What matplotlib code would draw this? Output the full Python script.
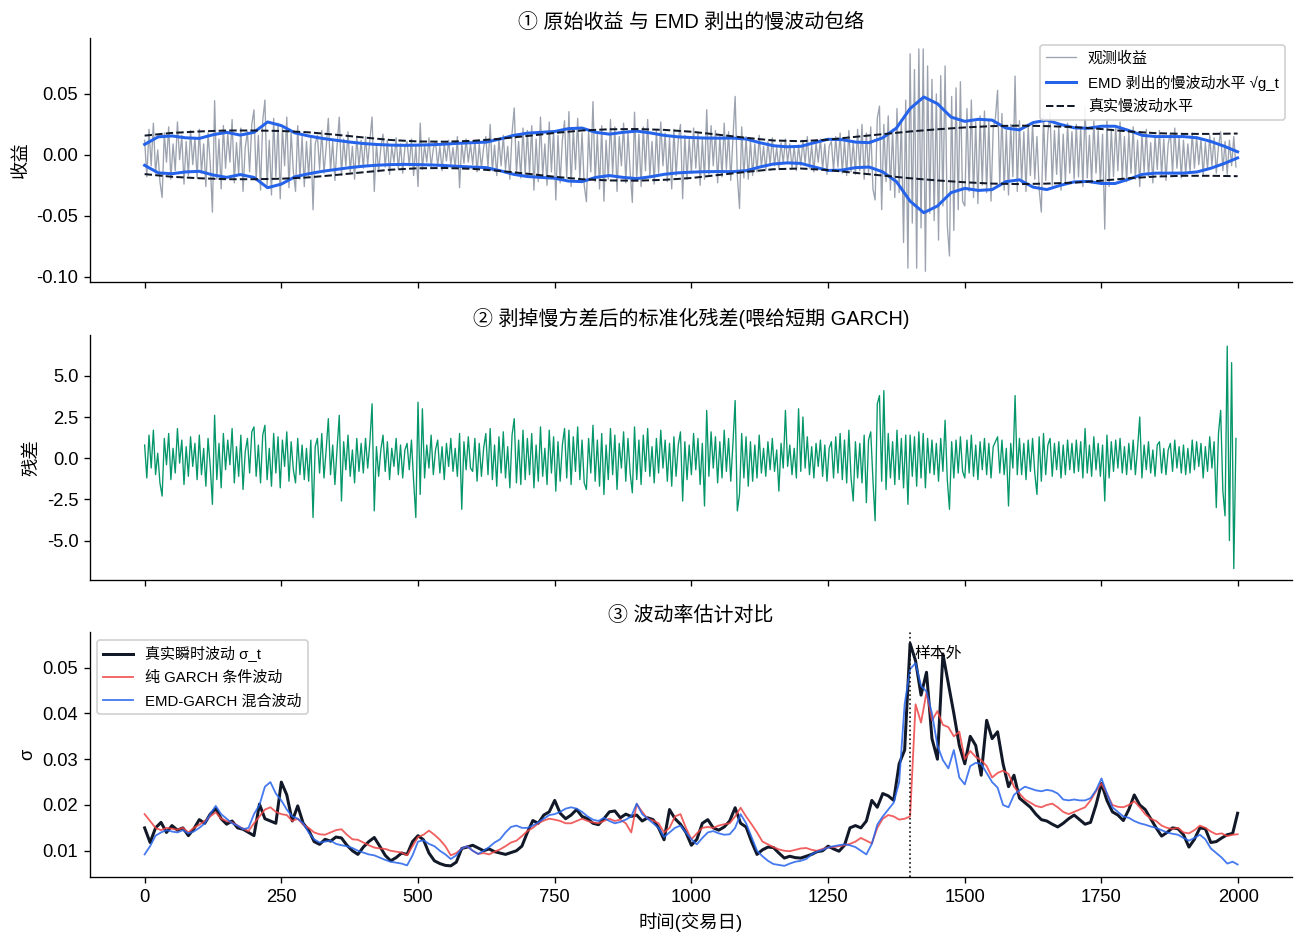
import numpy as np
import matplotlib
matplotlib.use("Agg")
import matplotlib.pyplot as plt

plt.rcParams['font.family'] = ['Liberation Sans', 'Noto Sans CJK SC', 'DejaVu Sans']
plt.rcParams['axes.unicode_minus'] = False

N_DAYS = 2000
OOS_START = 1400

# ---------------- data ----------------
# observed returns, x1e-4, one row per 100 days, one value every 4 days
RET_STEP = 4
ret_rows = [
    [120, -180, 210, -90, 260, -150, 40, -220, -350, 180, -60, 230, -200, 90, -130, 270, -40, 160, -240, 110, -170, 200, -80, 140, -190],
    [210, -150, 90, -260, 180, -70, -470, 445, -200, 130, -280, 240, -110, 170, -60, 290, -230, 100, -160, 220, -300, 60, 190, -140, 250],
    [370, -210, 160, -290, 280, 450, -250, 120, -330, 300, -180, 260, -360, 220, -90, 310, -270, 190, -140, -300, 240, -200, 150, -260, 110],
    [-180, 140, -450, 90, 160, -120, 200, -150, 60, 300, -130, 110, -210, 80, 310, -170, 130, -90, 190, -140, 70, -200, 150, -100, 120],
    [-110, 150, -80, 130, 310, -300, 90, -140, 60, 170, -100, 120, -160, 70, -60, 140, -120, 90, -150, 60, 110, -90, 130, -170, 80],
    [-260, 260, -120, 80, -60, 140, -100, 50, 110, -90, 70, -130, 90, -50, 120, -80, 60, -110, 150, -270, 100, -70, 130, -60, 90],
    [-80, 120, -140, 90, -110, 60, 150, -100, 250, -130, 80, -170, 130, -90, 160, -120, 70, -200, 180, 385, -150, 110, -190, 220, -160],
    [200, -160, 240, -290, 130, -220, 310, -180, 90, -250, 270, -140, 200, -370, 160, -230, 120, 280, -190, 355, -260, 210, -120, 300, -200],
    [180, -250, -385, 200, -140, 437, -220, 170, -280, 240, -380, 120, -200, 290, -160, 230, -300, 150, -90, 260, -230, 190, -140, -390, 350],
    [-210, 170, -260, 230, -130, 290, -180, 110, -240, 200, -150, 270, -90, 180, -220, 140, -280, 210, -170, 120, 250, -360, 160, -200, 130],
    [-150, 220, -110, 180, -250, 130, -200, 370, -160, 240, -90, 200, -230, 150, -180, 260, -120, 190, -210, 140, 480, -170, -440, 230, -190],
    [150, -200, 120, -170, 90, -140, 160, -100, 70, -130, 110, -80, 140, -90, 60, -120, 100, -70, 130, -60, 90, -110, 70, -130, 80],
    [-90, 120, -70, 150, -110, 80, -140, 100, -60, 130, -120, 90, -160, 70, 110, -130, 150, -100, 180, -150, 120, -170, 200, -140, 110],
    [-160, 210, -130, 250, -200, 180, -150, 230, -280, -370, 300, 400, -450, 250, -220, 320, -290, 210, -350, 380, -310, 290, -720, 450, -930],
    [830, -560, 700, -930, 870, -600, 870, -956, 730, -480, 620, -540, 500, -700, 650, -420, 730, -580, -830, 480, -620, 550, -450, 600, -380],
    [-420, 380, -300, 450, -350, 270, -400, 320, -250, 360, -310, 280, -380, 220, 300, 530, -260, 340, -290, 200, -330, 250, -180, 647, -300],
    [280, -230, 190, -300, 240, -170, 260, -200, 150, -280, -470, 320, -210, 180, 350, -250, 200, -160, 230, -290, 170, -220, 260, -150, 190],
    [-200, 250, -180, 220, -260, 400, -190, 160, -230, 280, -150, 200, -240, 170, -610, 300, -260, 210, -180, 240, -130, 270, -200, 150, -220],
    [190, -150, 230, -200, 120, -260, 170, -140, 210, -180, 100, -230, 160, -120, 200, -170, 130, -210, 90, 180, -150, 220, -110, 140, -190],
    [120, -160, 90, -140, 180, -110, 150, -80, 130, -170, 100, -120, 160, -90, 140, -150, 70, 190, -130, 110, -160, 120, -90, 150, -100],
]

# standardized residuals, x0.1, one row per 100 days, one value every 4 days
resid_rows = [
    [8, -12, 14, -6, 17, -10, 3, -15, -23, 12, -4, 15, -13, 6, -9, 18, -3, 11, -16, 7, -11, 13, -5, 9, -13],
    [14, -10, 6, -17, 12, -5, -28, 26, -13, 9, -18, 15, -7, 11, -4, 18, -15, 7, -11, 14, -19, 4, 12, -9, 16],
    [19, -11, 8, -15, 14, 20, -13, 6, -17, 15, -9, 13, -18, 11, -5, 16, -14, 10, -7, -15, 12, -10, 8, -13, 6],
    [-14, 11, -36, 7, 12, -9, 15, -12, 5, 24, -10, 8, -16, 6, 26, -26, 10, -7, 14, -11, 5, -15, 12, -8, 9],
    [-9, 12, -6, 10, 33, -32, 7, -11, 5, 14, -8, 10, -13, 6, -5, 12, -10, 8, -12, 5, 9, -7, 11, -14, -36],
    [34, -22, 30, -12, 8, -6, 14, -10, 5, 11, -9, 7, -13, 9, -5, 12, -8, 6, -11, 15, -31, 10, -7, 13, -6],
    [-8, 12, -14, 9, -11, 6, 15, -10, 18, -13, 8, -17, 13, -9, 16, -12, 7, -18, 14, 24, -15, 11, -16, 17, -13],
    [12, -10, 15, -18, 8, -14, 19, -11, 6, -16, 17, -9, 13, -20, 10, -14, 8, 18, -12, 17, -16, 13, -8, 19, -13],
    [11, -15, -19, 12, -9, 20, -14, 11, -17, 15, -22, 8, -13, 18, -10, 14, -19, 9, -6, 16, -14, 12, -9, -21, 19],
    [-13, 11, -16, 14, -8, 18, -11, 7, -15, 12, -9, 17, -6, 11, -14, 9, -17, 13, -11, 8, 16, -26, 10, -13, 8],
    [-10, 15, -7, 12, -16, 9, -29, 29, -11, 16, -6, 13, -15, 10, -12, 17, -8, 12, -14, 9, 35, -32, -22, 15, -12],
    [13, -17, 10, -14, 8, -12, 14, -9, 6, -11, 10, -7, 12, -8, 5, -20, 9, -6, 29, -5, 8, -10, 6, -12, 30],
    [-8, 25, -6, 13, -10, 7, -12, 9, -5, 11, -11, 8, -14, 6, 10, -12, 13, -9, 15, -13, 11, -15, 17, -12, -26],
    [10, -12, 9, -15, 14, -27, 11, 16, -13, -38, 33, 38, -14, 41, -19, 15, -12, 10, -16, 17, -13, 12, -18, 14, -28],
    [14, -11, 13, -17, 16, -12, 15, -18, 12, -9, 11, -10, 9, -14, 12, -8, 23, -13, -31, 10, -12, 11, -9, 13, -8],
    [-12, 11, -9, 14, -11, 8, -13, 10, -7, 12, -10, 9, -12, 7, 10, 13, -9, 11, -10, 6, -29, 9, -6, 38, -10],
    [12, -10, 9, -13, 11, -8, 12, -9, -22, 13, -14, 15, -10, 8, 12, -11, 9, -7, 10, -12, 8, -10, 11, -7, 9],
    [-9, 11, -8, 10, -12, 18, -9, 8, -11, 13, -7, 9, -11, 8, -26, 14, -12, 10, -8, 11, -6, 12, -9, 7, -10],
    [9, -7, 11, -10, 6, 25, -12, 8, -7, 10, -9, 5, -11, 8, 10, -9, 6, -10, 5, 9, -8, 11, -6, 7, -9],
    [8, -10, 6, -9, 11, -7, 10, -5, 9, -12, 7, -8, 13, -6, 10, -30, 15, 29, -20, -35, 68, -50, 58, -67, 12],
]

# volatility series, x1e-4, one row per 100 days, one value every 10 days
SIG_STEP = 10
true_sigma_rows = [
    [150, 118, 150, 162, 140, 155, 145, 150, 133, 148],
    [168, 160, 180, 192, 170, 158, 165, 150, 147, 140],
    [133, 202, 170, 165, 160, 250, 222, 165, 198, 160],
    [145, 120, 114, 125, 121, 130, 128, 112, 100, 92],
    [108, 120, 129, 110, 90, 78, 85, 95, 92, 120],
    [133, 124, 95, 78, 72, 68, 67, 75, 105, 108],
    [112, 106, 100, 104, 98, 95, 92, 96, 100, 110],
    [140, 166, 160, 178, 185, 210, 182, 170, 178, 190],
    [175, 170, 160, 157, 170, 185, 187, 172, 180, 175],
    [178, 165, 172, 168, 150, 124, 190, 170, 158, 140],
    [112, 125, 160, 168, 150, 145, 152, 165, 194, 160],
    [152, 120, 92, 102, 108, 107, 95, 84, 88, 85],
    [84, 88, 92, 98, 100, 110, 104, 99, 112, 150],
    [155, 150, 165, 210, 195, 225, 220, 210, 290, 320],
    [553, 515, 440, 490, 345, 300, 530, 465, 400, 330],
    [290, 350, 330, 265, 385, 345, 360, 290, 240, 265],
    [215, 205, 195, 180, 168, 165, 158, 152, 160, 170],
    [178, 168, 158, 162, 200, 247, 210, 185, 178, 166],
    [190, 222, 200, 190, 170, 150, 132, 140, 150, 148],
    [135, 108, 125, 150, 148, 118, 120, 128, 135, 138, 182],
]
garch_rows = [
    [180, 165, 150, 145, 150, 148, 146, 150, 140, 150],
    [157, 165, 175, 184, 170, 165, 162, 155, 148, 143],
    [160, 175, 190, 195, 185, 180, 178, 165, 170, 157],
    [150, 140, 136, 135, 140, 145, 147, 135, 125, 124],
    [118, 112, 107, 105, 104, 100, 98, 96, 90, 110],
    [130, 135, 144, 135, 124, 110, 90, 95, 105, 110],
    [100, 93, 95, 92, 98, 103, 110, 118, 122, 132],
    [143, 150, 160, 166, 170, 168, 165, 160, 160, 165],
    [170, 165, 162, 160, 165, 170, 165, 168, 160, 140],
    [202, 185, 170, 166, 160, 140, 150, 175, 180, 150],
    [125, 138, 150, 152, 150, 155, 158, 160, 175, 194],
    [175, 158, 140, 120, 114, 108, 103, 100, 99, 102],
    [105, 106, 102, 100, 104, 107, 108, 110, 112, 115],
    [120, 128, 122, 116, 150, 170, 178, 175, 168, 170],
    [175, 420, 380, 446, 385, 405, 375, 370, 350, 360],
    [300, 318, 305, 298, 285, 260, 270, 275, 268, 240],
    [225, 212, 205, 198, 195, 200, 203, 195, 185, 180],
    [185, 190, 195, 210, 230, 247, 225, 200, 196, 195],
    [200, 208, 195, 180, 170, 165, 155, 150, 148, 150],
    [140, 138, 145, 155, 150, 142, 136, 138, 132, 135, 136],
]
emd_garch_rows = [
    [92, 110, 133, 140, 145, 142, 140, 145, 138, 142],
    [150, 160, 180, 198, 180, 170, 160, 155, 147, 150],
    [180, 200, 240, 250, 225, 210, 190, 175, 170, 160],
    [140, 125, 118, 120, 122, 115, 112, 110, 106, 100],
    [96, 92, 90, 85, 80, 76, 74, 72, 68, 90],
    [120, 123, 115, 110, 100, 92, 82, 90, 105, 110],
    [100, 93, 100, 108, 118, 125, 140, 152, 155, 150],
    [150, 155, 162, 170, 178, 180, 185, 192, 195, 192],
    [185, 175, 168, 165, 172, 165, 160, 163, 168, 175],
    [203, 180, 170, 160, 150, 130, 140, 150, 155, 140],
    [125, 114, 128, 140, 143, 138, 135, 136, 150, 180],
    [160, 130, 100, 88, 78, 71, 69, 67, 72, 76],
    [78, 82, 92, 98, 102, 107, 110, 112, 114, 112],
    [108, 100, 92, 115, 157, 175, 190, 205, 250, 420],
    [497, 510, 460, 448, 400, 330, 298, 280, 320, 260],
    [245, 285, 292, 290, 270, 250, 238, 200, 195, 222],
    [232, 240, 236, 232, 230, 233, 231, 225, 212, 210],
    [212, 210, 210, 215, 232, 258, 225, 195, 185, 175],
    [172, 165, 160, 157, 153, 150, 145, 140, 137, 135],
    [128, 122, 128, 135, 125, 105, 95, 85, 72, 76, 70],
]

# EMD slow envelope sqrt(g_t), x1e-4, every 25 days
ENV_STEP = 25
emd_env = [86, 148, 155, 140, 135, 165, 185, 162, 185, 270, 240, 180, 155, 135, 120, 105,
           93, 85, 80, 78, 80, 83, 88, 95, 100, 105, 130, 160, 178, 185, 192, 215,
           220, 185, 170, 185, 195, 180, 160, 148, 142, 138, 137, 138, 130, 100, 75, 66,
           70, 100, 128, 125, 105, 100, 140, 220, 380, 475, 420, 310, 275, 292, 285, 220,
           205, 265, 285, 250, 222, 218, 235, 235, 200, 160, 150, 150, 150, 140, 110, 70, 25]

# true slow volatility level, x1e-4, every 50 days
SLOW_STEP = 50
slow_true = [158, 180, 192, 200, 200, 196, 185, 165, 143, 122, 110, 108, 115, 132, 155, 180,
             200, 210, 212, 205, 190, 165, 140, 118, 112, 125, 148, 170, 192, 210, 225, 236,
             240, 236, 228, 212, 192, 178, 172, 172, 175]


def rows_to_series(rows, step, scale, block=100):
    xs, ys = [], []
    for r, row in enumerate(rows):
        for j, v in enumerate(row):
            xs.append(min(r * block + j * step, N_DAYS - 1))
            ys.append(v * scale)
    return np.array(xs), np.array(ys)


def flat_series(vals, step, scale):
    xs = np.minimum(np.arange(len(vals)) * step, N_DAYS - 1)
    return xs, np.array(vals) * scale


x_ret, ret = rows_to_series(ret_rows, RET_STEP, 1e-4)
x_res, resid = rows_to_series(resid_rows, RET_STEP, 0.1)
x_sig, sig_true = rows_to_series(true_sigma_rows, SIG_STEP, 1e-4)
x_g, sig_garch = rows_to_series(garch_rows, SIG_STEP, 1e-4)
x_e, sig_emd = rows_to_series(emd_garch_rows, SIG_STEP, 1e-4)
x_env, env = flat_series(emd_env, ENV_STEP, 1e-4)
x_slow, slow = flat_series(slow_true, SLOW_STEP, 1e-4)

# ---------------- figure ----------------
fig, (ax1, ax2, ax3) = plt.subplots(3, 1, figsize=(1304 / 120, 944 / 120), dpi=120, sharex=True)
fig.subplots_adjust(left=0.069, right=0.991, top=0.96, bottom=0.071, hspace=0.215)

for ax in (ax1, ax2, ax3):
    ax.spines['top'].set_visible(False)
    ax.spines['right'].set_visible(False)
    ax.tick_params(labelsize=11)

# Panel 1
ax1.plot(x_ret, ret, color='#9ca3af', lw=0.8, label='观测收益')
ax1.plot(x_env, env, color='#2563eb', lw=1.8, label='EMD 剥出的慢波动水平 √g_t')
ax1.plot(x_env, -env, color='#2563eb', lw=1.8)
ax1.plot(x_slow, slow, color='#111827', lw=1.2, ls='--', label='真实慢波动水平')
ax1.plot(x_slow, -slow, color='#111827', lw=1.2, ls='--')
ax1.set_title('① 原始收益 与 EMD 剥出的慢波动包络', fontsize=12)
ax1.set_ylabel('收益', fontsize=11)
ax1.legend(loc='upper right', fontsize=9, framealpha=0.9, edgecolor='#cccccc',
           labelspacing=0.6)

# Panel 2
ax2.plot(x_res, resid, color='#059669', lw=0.8)
ax2.set_title('② 剥掉慢方差后的标准化残差(喂给短期 GARCH)', fontsize=12)
ax2.set_ylabel('残差', fontsize=11)

# Panel 3
ax3.plot(x_sig, sig_true, color='#111827', lw=1.8, label='真实瞬时波动 σ_t')
ax3.plot(x_g, sig_garch, color='#ef4444', lw=1.1, alpha=0.85, label='纯 GARCH 条件波动')
ax3.plot(x_e, sig_emd, color='#2563eb', lw=1.1, alpha=0.85, label='EMD-GARCH 混合波动')
ax3.axvline(OOS_START, color='#111111', ls=':', lw=1.0)
ax3.text(OOS_START + 8, 0.0531, '样本外', fontsize=9.5, va='center', ha='left')
ax3.set_title('③ 波动率估计对比', fontsize=12)
ax3.set_ylabel('σ', fontsize=11)
ax3.set_xlabel('时间(交易日)', fontsize=11)
ax3.legend(loc='upper left', fontsize=9, framealpha=0.9, edgecolor='#cccccc',
           labelspacing=0.6)
ax3.set_xticks([0, 250, 500, 750, 1000, 1250, 1500, 1750, 2000])

fig.savefig('out.png', dpi=120)
